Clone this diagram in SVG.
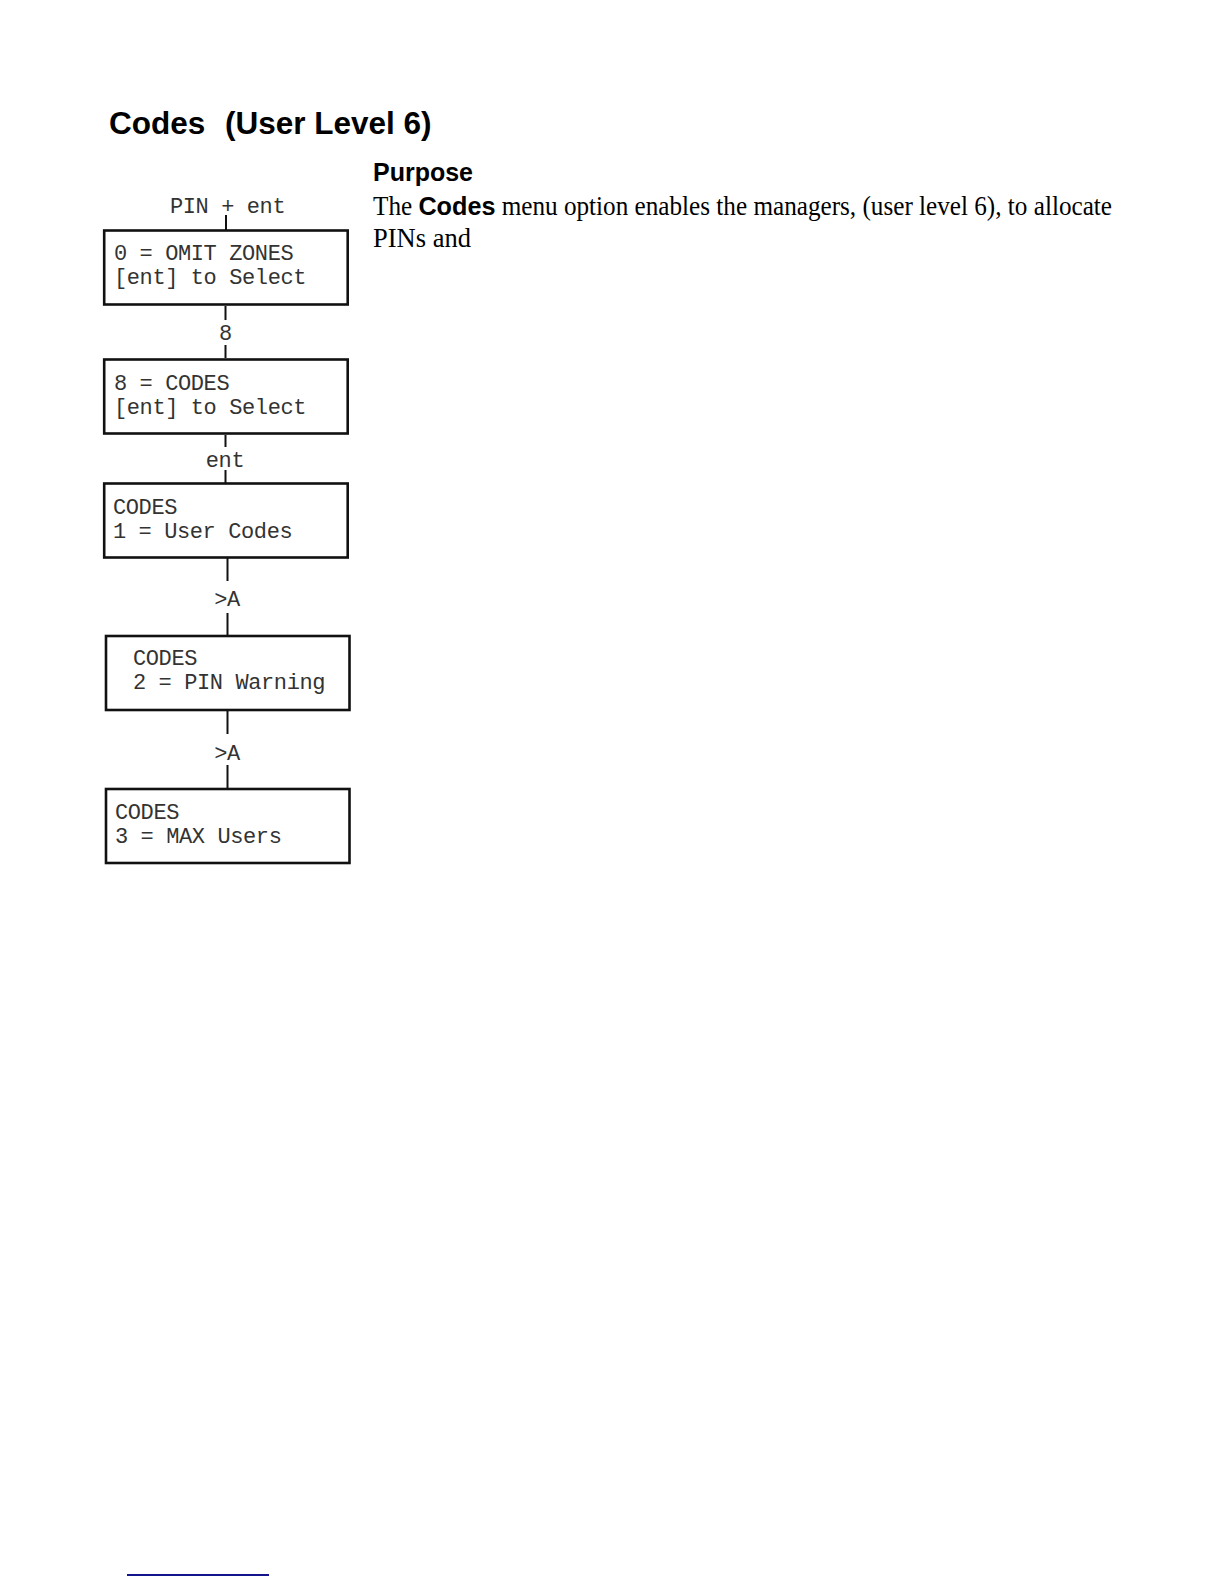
<svg xmlns="http://www.w3.org/2000/svg" width="1224" height="1584" viewBox="0 0 1224 1584">
<style>
.box{fill:#fff;stroke:#111;stroke-width:2.6}
.lcd{font-family:"Liberation Mono","DejaVu Sans Mono",monospace;font-size:22px;letter-spacing:-0.4px;fill:#333}
.lbl{font-family:"Liberation Mono","DejaVu Sans Mono",monospace;font-size:22px;letter-spacing:-0.4px;fill:#333;text-anchor:middle}
.conn{stroke:#111;stroke-width:2;fill:none}
.h1{font-family:"Liberation Sans",Arial,sans-serif;font-weight:bold;font-size:31.5px;fill:#000}
.h2{font-family:"Liberation Sans",Arial,sans-serif;font-weight:bold;font-size:25px;fill:#000}
.body{font-family:"Liberation Serif","Times New Roman",serif;font-size:26.5px;fill:#000}
.bold{font-family:"Liberation Sans",Arial,sans-serif;font-weight:bold}
</style>
<rect width="1224" height="1584" fill="#fff"/>

<g id="title">
<text class="h1" x="109" y="134">Codes</text>
<text class="h1" x="225" y="134">(User Level 6)</text>
</g>

<g id="purpose">
<text class="h2" x="373" y="181">Purpose</text>
<text class="body" x="373" y="215" textLength="739" lengthAdjust="spacingAndGlyphs">The <tspan class="bold">Codes</tspan> menu option enables the managers, (user level 6), to allocate</text>
<text class="body" x="373" y="247">PINs and</text>
</g>

<g id="connectors">
<line class="conn" x1="226" y1="215" x2="226" y2="230"/>
<line class="conn" x1="225.5" y1="306" x2="225.5" y2="320"/>
<line class="conn" x1="225.5" y1="345" x2="225.5" y2="358"/>
<line class="conn" x1="225.5" y1="435" x2="225.5" y2="447"/>
<line class="conn" x1="225.5" y1="470" x2="225.5" y2="483"/>
<line class="conn" x1="227.5" y1="558" x2="227.5" y2="581"/>
<line class="conn" x1="227.5" y1="613" x2="227.5" y2="635"/>
<line class="conn" x1="227.5" y1="711" x2="227.5" y2="734"/>
<line class="conn" x1="227.5" y1="765" x2="227.5" y2="788"/>
<text class="lcd" x="170" y="213">PIN + ent</text>
<text class="lbl" x="225.5" y="340">8</text>
<text class="lbl" x="225" y="467">ent</text>
<text class="lbl" x="227" y="606">&gt;A</text>
<text class="lbl" x="227" y="760">&gt;A</text>
</g>

<g id="node-omit-zones">
<rect class="box" x="104.2" y="230.5" width="243.5" height="74"/>
<text class="lcd" x="114" y="260">0 = OMIT ZONES</text>
<text class="lcd" x="114" y="284">[ent] to Select</text>
</g>

<g id="node-codes-select">
<rect class="box" x="104.2" y="359.5" width="243.5" height="74"/>
<text class="lcd" x="114" y="390">8 = CODES</text>
<text class="lcd" x="114" y="414">[ent] to Select</text>
</g>

<g id="node-user-codes">
<rect class="box" x="104.2" y="483.5" width="243.5" height="74"/>
<text class="lcd" x="113" y="514">CODES</text>
<text class="lcd" x="113" y="538">1 = User Codes</text>
</g>

<g id="node-pin-warning">
<rect class="box" x="106" y="636" width="243.5" height="74"/>
<text class="lcd" x="133" y="665">CODES</text>
<text class="lcd" x="133" y="689">2 = PIN Warning</text>
</g>

<g id="node-max-users">
<rect class="box" x="106" y="789" width="243.5" height="74"/>
<text class="lcd" x="115" y="819">CODES</text>
<text class="lcd" x="115" y="843">3 = MAX Users</text>
</g>

<line x1="127" y1="1575" x2="269" y2="1575" stroke="#14148c" stroke-width="2"/>
</svg>
